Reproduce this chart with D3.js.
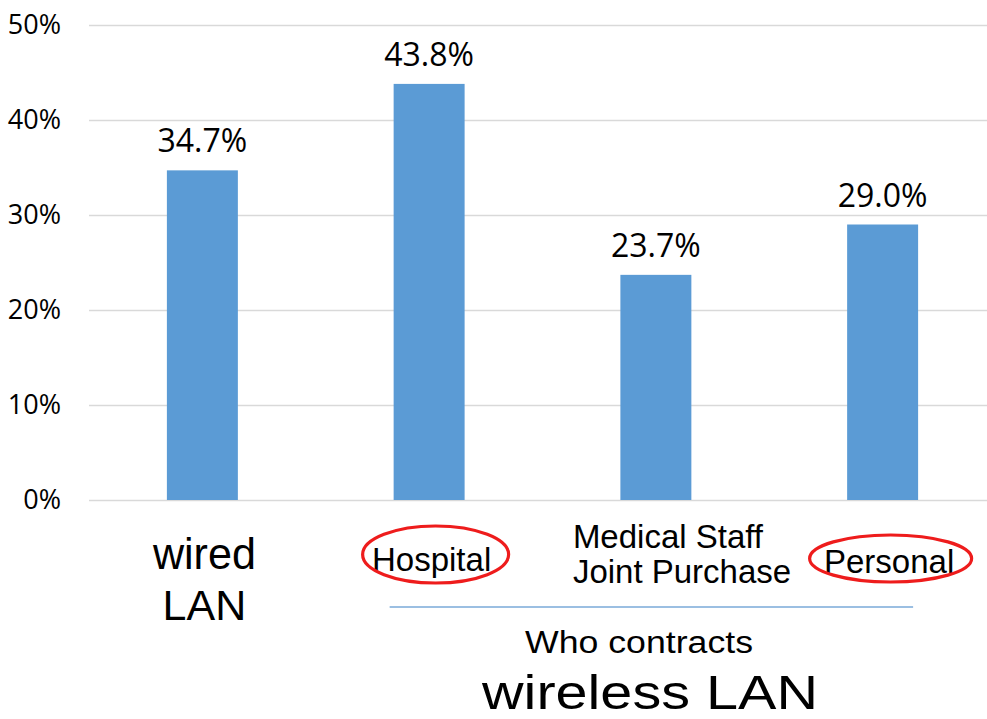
<!DOCTYPE html>
<html>
<head>
<meta charset="utf-8">
<script src="https://cdn.jsdelivr.net/npm/d3@7"></script>
<style>
  html, body { margin: 0; padding: 0; background: #ffffff; }
  svg { display: block; }
</style>
</head>
<body>
<svg id="chart" width="987" height="719"></svg>
<script>
// Share of responses by network type / contracting party
const categories = ["wired LAN", "Hospital", "Medical Staff Joint Purchase", "Personal"];
const values = [0.347, 0.438, 0.237, 0.290];
const valueLabels = ["34.7%", "43.8%", "23.7%", "29.0%"];
const yTicks = [0, 0.1, 0.2, 0.3, 0.4, 0.5];
const circled = ["Hospital", "Personal"];
const groupTitle = "Who contracts";
const groupName = "wireless LAN";

const svg = d3.select("#chart");
const W = 987, H = 719;

const x = d3.scaleBand()
  .domain(categories)
  .range([89, 996])
  .paddingInner(0.687)
  .paddingOuter(0.3435);

const y = d3.scaleLinear().domain([0, 0.5]).range([500, 25]);

// Gridlines and percentage tick labels
const yAxis = d3.axisLeft(y)
  .tickValues(yTicks)
  .tickFormat(d3.format(".0%"))
  .tickSize(-(W - 89))
  .tickPadding(28);

const gy = svg.append("g")
  .attr("transform", "translate(89,0)")
  .call(yAxis);
gy.select(".domain").remove();
gy.selectAll(".tick line").attr("stroke", "#d9d9d9").attr("stroke-width", 1.3);
gy.selectAll(".tick text")
  .attr("fill", "#000")
  .style("font-family", "'Open Sans', sans-serif")
  .style("font-size", "27px");

// Bars
svg.append("g").selectAll("rect")
  .data(categories)
  .join("rect")
  .attr("x", d => x(d))
  .attr("y", (d, i) => y(values[i]))
  .attr("width", x.bandwidth())
  .attr("height", (d, i) => y(0) - y(values[i]))
  .attr("fill", "#5b9bd5");

// Value labels above bars
svg.append("g").selectAll("text")
  .data(categories)
  .join("text")
  .attr("x", d => x(d) + x.bandwidth() / 2)
  .attr("y", (d, i) => y(values[i]) - 18)
  .attr("text-anchor", "middle")
  .style("font-family", "'Open Sans', sans-serif")
  .style("font-size", "32px")
  .attr("fill", "#000")
  .text((d, i) => valueLabels[i]);

// Category labels below the axis
const labelFont = "'Liberation Sans', Arial, sans-serif";
const cx = d => x(d) + x.bandwidth() / 2;

// wired LAN: two large centered lines
const wired = categories[0];
svg.append("text")
  .attr("x", cx(wired) + 2).attr("y", 569)
  .attr("text-anchor", "middle")
  .style("font-family", labelFont).style("font-size", "44px")
  .attr("textLength", 103).attr("lengthAdjust", "spacingAndGlyphs")
  .text(wired.split(" ")[0]);
svg.append("text")
  .attr("x", cx(wired) + 2).attr("y", 620)
  .attr("text-anchor", "middle")
  .style("font-family", labelFont).style("font-size", "43px")
  .text(wired.split(" ")[1]);

// Hospital
svg.append("text")
  .attr("x", cx(categories[1]) + 2.5).attr("y", 571)
  .attr("text-anchor", "middle")
  .style("font-family", labelFont).style("font-size", "33px")
  .text(categories[1]);

// Medical Staff / Joint Purchase, left aligned block
const med = categories[2];
const medX = cx(med) - 83;
svg.append("text")
  .attr("x", medX).attr("y", 548)
  .style("font-family", labelFont).style("font-size", "33px")
  .text("Medical Staff");
svg.append("text")
  .attr("x", medX).attr("y", 583)
  .style("font-family", labelFont).style("font-size", "33px")
  .text("Joint Purchase");

// Personal
svg.append("text")
  .attr("x", cx(categories[3]) + 6.5).attr("y", 573)
  .attr("text-anchor", "middle")
  .style("font-family", labelFont).style("font-size", "33px")
  .text(categories[3]);

// Red rings around the contracting parties
const rings = {
  "Hospital": { dx: 6.5, cy: 554.5, rx: 73, ry: 28.5 },
  "Personal": { dx: 8, cy: 558.5, rx: 81, ry: 23.5 }
};
svg.append("g").selectAll("ellipse")
  .data(circled)
  .join("ellipse")
  .attr("cx", d => cx(d) + rings[d].dx)
  .attr("cy", d => rings[d].cy)
  .attr("rx", d => rings[d].rx)
  .attr("ry", d => rings[d].ry)
  .attr("fill", "none")
  .attr("stroke", "#ee1c1c")
  .attr("stroke-width", 3.2);

// Bracket line grouping the wireless categories
svg.append("line")
  .attr("x1", x(categories[1]) - 4).attr("x2", x(categories[3]) + x.bandwidth() - 5)
  .attr("y1", 607).attr("y2", 607)
  .attr("stroke", "#7aaad9")
  .attr("stroke-width", 1.6);

svg.append("text")
  .attr("x", 639).attr("y", 653)
  .attr("text-anchor", "middle")
  .style("font-family", labelFont).style("font-size", "31px")
  .attr("textLength", 228).attr("lengthAdjust", "spacingAndGlyphs")
  .text(groupTitle);

svg.append("text")
  .attr("x", 650).attr("y", 709)
  .attr("text-anchor", "middle")
  .style("font-family", labelFont).style("font-size", "48px")
  .attr("textLength", 336).attr("lengthAdjust", "spacingAndGlyphs")
  .text(groupName);
</script>
</body>
</html>
